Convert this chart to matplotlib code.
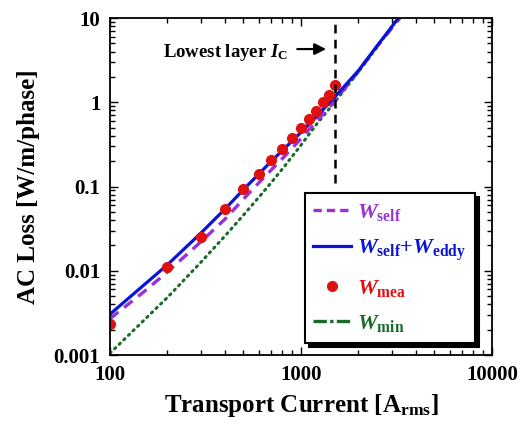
import numpy as np
import matplotlib
matplotlib.use('Agg')
import matplotlib.pyplot as plt
from matplotlib.lines import Line2D

plt.rcParams['font.family'] = 'Liberation Serif'
plt.rcParams['font.weight'] = 'bold'
plt.rcParams['mathtext.fontset'] = 'custom'
plt.rcParams['mathtext.rm'] = 'Liberation Serif:bold'
plt.rcParams['mathtext.it'] = 'Liberation Serif:italic:bold'
plt.rcParams['mathtext.bf'] = 'Liberation Serif:bold'

# valores
i_mea = [100, 200, 300, 400, 500, 600, 700, 800, 900, 1000, 1100, 1200, 1300, 1400, 1500]
w_mea = [0.00233, 0.0111, 0.0252, 0.0536, 0.0927, 0.141, 0.206, 0.276, 0.373,
         0.491, 0.628, 0.795, 0.998, 1.23, 1.60]

i_self = [100, 150, 200, 300, 400, 500, 600, 700, 800, 1000, 1200, 1500, 2000, 2500, 3300]
w_self = [0.0027, 0.0056, 0.0097, 0.0222, 0.041, 0.071, 0.110, 0.158, 0.215,
          0.37, 0.59, 1.03, 2.33, 4.6, 10.0]

i_tot = [100, 200, 300, 400, 500, 600, 700, 800, 1000, 1200, 1500, 2000, 2500, 3240]
w_tot = [0.00305, 0.0118, 0.0282, 0.054, 0.092, 0.140, 0.200, 0.268, 0.44,
         0.67, 1.15, 2.38, 4.65, 10.0]

i_min = [100, 200, 300, 400, 500, 600, 700, 800, 1000, 1200, 1500, 2000, 2500, 3200]
w_min = [0.00105, 0.00483, 0.0127, 0.0259, 0.0458, 0.074, 0.112, 0.162, 0.31,
         0.54, 1.0, 2.3, 4.5, 9.9]

ic_x = 1500
ic_y = [0.11, 10]

xticks = [100, 1000, 10000]
xlabels = ['100', '1000', '10000']
yticks = [0.001, 0.01, 0.1, 1, 10]
ylabels = ['0.001', '0.01', '0.1', '1', '10']

fig = plt.figure(figsize=(5.23, 4.25), dpi=100)
ax = fig.add_axes([0.2103, 0.1647, 0.7304, 0.7929])

ax.plot(i_min, w_min, ls=(0, (0.5, 1.6)), lw=2.2, c='#1a6b2a', dash_capstyle='round')
ax.plot(i_self, w_self, ls=(0, (3.2, 2.2)), lw=2.4, c='#9a30d8')
ax.plot(i_tot, w_tot, ls='-', lw=2.3, c='#0a14d8')
ax.plot(i_mea, w_mea, 'o', ms=7, c='#e01010', mec='#e01010')

ax.plot([ic_x, ic_x], ic_y, ls=(0, (3.5, 2.5)), lw=1.8, c='k')
ax.annotate('', xy=(1400, 4.28), xytext=(925, 4.28),
            arrowprops=dict(arrowstyle='-|>', lw=1.6, color='k', mutation_scale=17))
ax.text(189, 3.44, 'Lowest layer $I_\\mathrm{C}$', fontsize=13.5, fontweight='bold', va='baseline')

ax.set_xscale('log')
ax.set_yscale('log')
ax.set_xlim(100, 10000)
ax.set_ylim(0.001, 10)
ax.set_xticks(xticks)
ax.set_xticklabels(xlabels)
ax.set_yticks(yticks)
ax.set_yticklabels(ylabels)
ax.tick_params(which='both', direction='in', top=True, right=True, width=1.0, labelsize=15)
ax.tick_params(which='major', length=6)
ax.tick_params(which='minor', length=3.5)
ax.tick_params(axis='x', pad=7)
ax.tick_params(axis='y', pad=7)
for s in ax.spines.values():
    s.set_linewidth(1.3)

ax.set_xlabel('Transport Current [A$_\\mathrm{rms}$]', fontsize=18, fontweight='bold', labelpad=5)
ax.set_ylabel('AC Loss [W/m/phase]', fontsize=18, fontweight='bold', labelpad=10)

handles = [
    Line2D([], [], ls=(0, (2.5, 1.5)), lw=2.4, c='#9a30d8'),
    Line2D([], [], ls='-', lw=2.3, c='#0a14d8'),
    Line2D([], [], ls='none', marker='o', ms=7, c='#e01010'),
    Line2D([], [], ls=(0, (4, 1, 1, 1)), lw=2.4, c='#1a6b2a'),
]
labels = ['$W_\\mathrm{self}$', '$W_\\mathrm{self}$+$W_\\mathrm{eddy}$',
          '$W_\\mathrm{mea}$', '$W_\\mathrm{min}$']
leg = ax.legend(handles, labels, loc='lower right', bbox_to_anchor=(0.955, 0.036),
                borderaxespad=0, fontsize=16, handlelength=1.7, handletextpad=0.25,
                labelspacing=0.65, borderpad=0.4, fancybox=False, framealpha=1,
                edgecolor='k', labelcolor=['#9a30d8', '#0a14d8', '#e01010', '#1a6b2a'],
                shadow={'color': 'k', 'alpha': 1, 'ox': 3, 'oy': -3})
leg.get_frame().set_linewidth(1.5)

fig.savefig('out.png', dpi=100)
